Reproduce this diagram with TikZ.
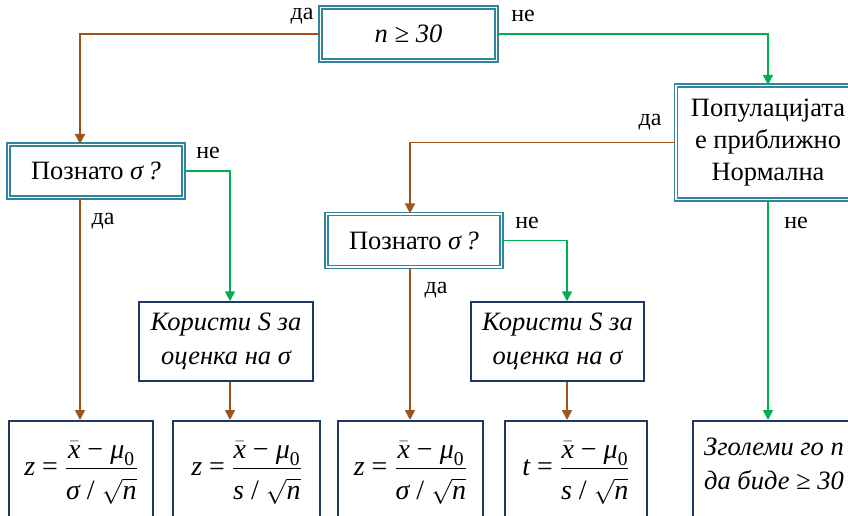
\documentclass[tikz,border=0pt]{standalone}
\usepackage{amsmath}
\usepackage{fontspec}
\setmainfont{Liberation Serif}
\usetikzlibrary{arrows.meta}
\definecolor{brn}{RGB}{158,84,26}
\definecolor{grn}{RGB}{0,176,80}
\definecolor{teal2}{RGB}{49,133,156}
\definecolor{navy}{RGB}{31,56,100}
\newcommand{\mv}[1]{\text{\itshape #1}}
\newcommand{\mr}[1]{\text{\upshape #1}}
\newcommand{\dstrut}{\rule{0pt}{27pt}}
\tikzset{
  dbox/.style={draw=teal2, double=white, double distance=1.8pt, line width=1.2pt, fill=white, inner sep=0pt, align=center, font=\fontsize{26.5}{32}\selectfont},
  sbox/.style={draw=navy, line width=1.5pt, fill=white, inner sep=0pt, align=center, font=\fontsize{26.5}{34}\selectfont},
  yes/.style={draw=brn, line width=1.6pt, -{Triangle[length=10pt,width=10pt]}},
  no/.style={draw=grn, line width=1.6pt, -{Triangle[length=10pt,width=10pt]}},
  lbl/.style={font=\fontsize{24}{26}\selectfont, inner sep=0pt},
  fml/.style={inner sep=0pt, font=\fontsize{28}{32}\selectfont}
}
\begin{document}
\begin{tikzpicture}[x=1pt,y=-1pt]
\useasboundingbox (0,0) rectangle (848,516);
\clip (0,0) rectangle (848,516);
\fill[white] (0,0) rectangle (848,516);
% nodes
\node[dbox, minimum width=176pt, minimum height=53pt] (top) at (408.5,34) {\itshape n ≥ 30};
\node[dbox, minimum width=184pt, minimum height=114pt] (pop) at (768,142.5) {Популацијата\\е приближно\\Нормална};
\node[dbox, minimum width=175pt, minimum height=53pt] (k1) at (96,171) {Познато \textit{σ\,?}};
\node[dbox, minimum width=175pt, minimum height=53pt] (k2) at (414,240.5) {Познато \textit{σ\,?}};
\node[sbox, minimum width=174pt, minimum height=79pt] (s1) at (226,341.5) {\itshape Користи S за\\\itshape оценка на σ};
\node[sbox, minimum width=173pt, minimum height=79pt] (s2) at (557.5,341.5) {\itshape Користи S за\\\itshape оценка на σ};
\node[sbox, minimum width=144pt, minimum height=120pt, anchor=north] (b1) at (81,420) {};
\node[sbox, minimum width=147pt, minimum height=120pt, anchor=north] (b2) at (246.5,420) {};
\node[sbox, minimum width=145pt, minimum height=120pt, anchor=north] (b3) at (410.5,420) {};
\node[sbox, minimum width=142pt, minimum height=120pt, anchor=north] (b4) at (576,420) {};
\node[sbox, minimum width=180pt, minimum height=120pt, anchor=north west] (b5) at (692,420) {};
% formulas
\node[fml] (f1) at (81,473) {$\displaystyle \mv{z}\mr{ = }\frac{\bar{\mv{x}}\mr{ − }\mv{μ}_{\mr{0}}}{\dstrut\mv{σ}\mr{ / }\sqrt{\mv{n}}}$};
\node[fml] (f2) at (246.5,473) {$\displaystyle \mv{z}\mr{ = }\frac{\bar{\mv{x}}\mr{ − }\mv{μ}_{\mr{0}}}{\dstrut\mv{s}\mr{ / }\sqrt{\mv{n}}}$};
\node[fml] (f3) at (410.5,473) {$\displaystyle \mv{z}\mr{ = }\frac{\bar{\mv{x}}\mr{ − }\mv{μ}_{\mr{0}}}{\dstrut\mv{σ}\mr{ / }\sqrt{\mv{n}}}$};
\node[fml] (f4) at (576,473) {$\displaystyle \mv{t}\mr{ = }\frac{\bar{\mv{x}}\mr{ − }\mv{μ}_{\mr{0}}}{\dstrut\mv{s}\mr{ / }\sqrt{\mv{n}}}$};
\node[inner sep=0pt, anchor=west, align=left, font=\fontsize{26.5}{34}\selectfont\itshape] (f5) at (704,464) {Зголеми го n\\да биде ≥ 30};
% coordinates
\coordinate (c1) at (80,34);
\coordinate (c2) at (768,34);
\coordinate (c3) at (410,142.5);
\coordinate (c4) at (230,171);
\coordinate (c5) at (567,240.5);
% connectors
\draw[yes] (top.west) -- (c1) -- (k1.north -| c1);
\draw[no] (top.east) -- (c2) -- (pop.north);
\draw[yes] (pop.west) -- (c3) -- (k2.north -| c3);
\draw[no] (pop.south) -- (pop.south |- b5.north);
\draw[no] (k1.east) -- (c4) -- (s1.north -| c4);
\draw[yes] (k1.south -| c1) -- (b1.north -| c1);
\draw[yes] (s1.south -| c4) -- (b2.north -| c4);
\draw[no] (k2.east) -- (c5) -- (s2.north -| c5);
\draw[yes] (k2.south -| c3) -- (b3.north -| c3);
\draw[yes] (s2.south -| c5) -- (b4.north -| c5);
% labels
\node[lbl] (l1) at (302,16) {да};
\node[lbl] (l2) at (523,16) {не};
\node[lbl] (l3) at (650,122) {да};
\node[lbl] (l4) at (796,223) {не};
\node[lbl] (l5) at (208,153) {не};
\node[lbl] (l6) at (103,221) {да};
\node[lbl] (l7) at (527,223) {не};
\node[lbl] (l8) at (436,290) {да};
\end{tikzpicture}
\end{document}
